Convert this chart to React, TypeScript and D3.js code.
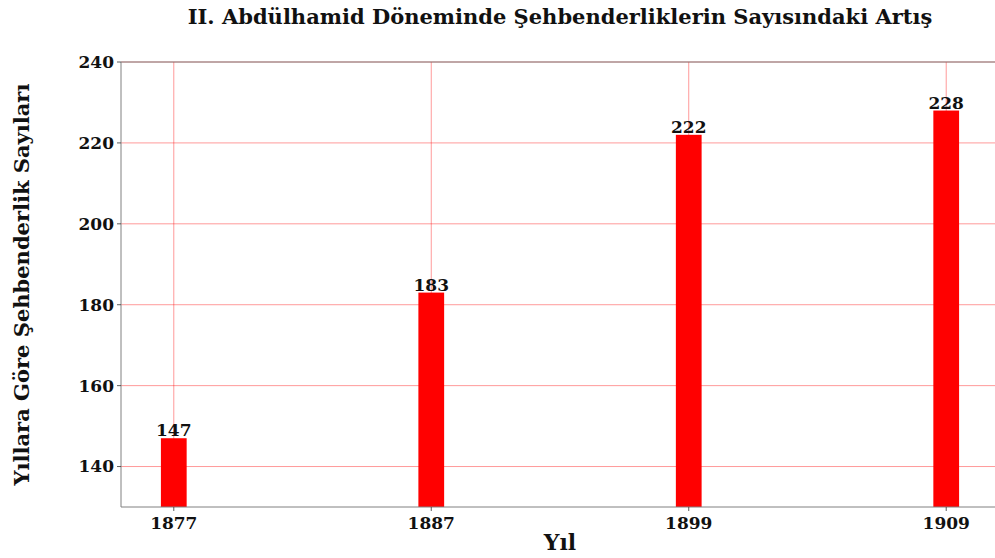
import { useEffect, useRef } from "react"
import * as d3 from "d3"

const years = ["1877", "1887", "1899", "1909"]
const counts = [147, 183, 222, 228]
const yTicks = [140, 160, 180, 200, 220, 240]

const titleText = "II. Abdülhamid Döneminde Şehbenderliklerin Sayısındaki Artış"
const xLabelText = "Yıl"
const yLabelText = "Yıllara Göre Şehbenderlik Sayıları"

const FONT = "'DejaVu Serif', serif"

export default function App() {
    const ref = useRef<SVGSVGElement | null>(null)

    useEffect(() => {
        const node = ref.current
        if (!node) return

        const width = 995
        const height = 558
        const margin = { top: 62, right: -4, bottom: 51, left: 121 }
        const innerW = width - margin.left - margin.right
        const innerH = height - margin.top - margin.bottom

        const svg = d3.select(node)
        svg.selectAll("*").remove()

        const g = svg.append("g")
            .attr("transform", `translate(${margin.left},${margin.top})`)

        // categorical positions like matplotlib: index 0..n-1 with padding
        const x = d3.scaleLinear()
            .domain([-0.205, years.length - 1 + 0.205])
            .range([0, innerW])

        const y = d3.scaleLinear()
            .domain([130, 240])
            .range([innerH, 0])

        const barW = x(0.1) - x(0)

        // grid
        g.append("g")
            .selectAll("line")
            .data(yTicks)
            .join("line")
            .attr("x1", 0)
            .attr("x2", innerW)
            .attr("y1", d => y(d))
            .attr("y2", d => y(d))
            .attr("stroke", "red")
            .attr("stroke-opacity", 0.5)
            .attr("stroke-width", 0.8)

        g.append("g")
            .selectAll("line")
            .data(years)
            .join("line")
            .attr("x1", (_, i) => x(i))
            .attr("x2", (_, i) => x(i))
            .attr("y1", 0)
            .attr("y2", innerH)
            .attr("stroke", "red")
            .attr("stroke-opacity", 0.5)
            .attr("stroke-width", 0.8)

        // bars
        g.append("g")
            .selectAll("rect")
            .data(counts)
            .join("rect")
            .attr("x", (_, i) => x(i) - barW / 2)
            .attr("y", d => y(d))
            .attr("width", barW)
            .attr("height", d => innerH - y(d))
            .attr("fill", "red")

        // value labels
        g.append("g")
            .selectAll("text")
            .data(counts)
            .join("text")
            .attr("x", (_, i) => x(i))
            .attr("y", d => y(d) - 2)
            .attr("text-anchor", "middle")
            .attr("font-family", FONT)
            .attr("font-weight", "bold")
            .attr("font-size", 17)
            .attr("fill", "#111")
            .text(d => d)

        // spines (right one falls outside the picture)
        const spine = "#808080"
        g.append("line")
            .attr("x1", 0).attr("x2", 0).attr("y1", 0).attr("y2", innerH)
            .attr("stroke", spine).attr("stroke-width", 1)
        g.append("line")
            .attr("x1", 0).attr("x2", innerW).attr("y1", innerH).attr("y2", innerH)
            .attr("stroke", spine).attr("stroke-width", 1)
        g.append("line")
            .attr("x1", 0).attr("x2", innerW).attr("y1", 0).attr("y2", 0)
            .attr("stroke", spine).attr("stroke-width", 1)

        // y ticks
        const yt = g.append("g")
            .selectAll("g")
            .data(yTicks)
            .join("g")
            .attr("transform", d => `translate(0,${y(d)})`)
        yt.append("line")
            .attr("x1", -4).attr("x2", 0)
            .attr("stroke", "#333").attr("stroke-width", 0.8)
        yt.append("text")
            .attr("x", -7)
            .attr("dy", "0.35em")
            .attr("text-anchor", "end")
            .attr("font-family", FONT)
            .attr("font-weight", "bold")
            .attr("font-size", 17)
            .attr("fill", "#111")
            .text(d => d)

        // x ticks
        const xt = g.append("g")
            .selectAll("g")
            .data(years)
            .join("g")
            .attr("transform", (_, i) => `translate(${x(i)},${innerH})`)
        xt.append("line")
            .attr("y1", 0).attr("y2", 4)
            .attr("stroke", "#333").attr("stroke-width", 0.8)
        xt.append("text")
            .attr("y", 22)
            .attr("text-anchor", "middle")
            .attr("font-family", FONT)
            .attr("font-weight", "bold")
            .attr("font-size", 17)
            .attr("fill", "#111")
            .text(d => d)

        // title
        svg.append("text")
            .attr("x", margin.left + innerW / 2)
            .attr("y", 24)
            .attr("text-anchor", "middle")
            .attr("font-family", FONT)
            .attr("font-weight", "bold")
            .attr("font-size", 21)
            .attr("fill", "#111")
            .text(titleText)

        // axis labels
        svg.append("text")
            .attr("x", margin.left + innerW / 2)
            .attr("y", 550)
            .attr("text-anchor", "middle")
            .attr("font-family", FONT)
            .attr("font-weight", "bold")
            .attr("font-size", 22)
            .attr("fill", "#111")
            .text(xLabelText)

        svg.append("text")
            .attr("transform", `translate(29,${margin.top + innerH / 2}) rotate(-90)`)
            .attr("text-anchor", "middle")
            .attr("font-family", FONT)
            .attr("font-weight", "bold")
            .attr("font-size", 21)
            .attr("fill", "#111")
            .text(yLabelText)
    }, [])

    return (
        <svg
            ref={ref}
            width={995}
            height={558}
            style={{ position: "absolute", left: 0, top: 0, background: "#fff" }}
        />
    )
}
